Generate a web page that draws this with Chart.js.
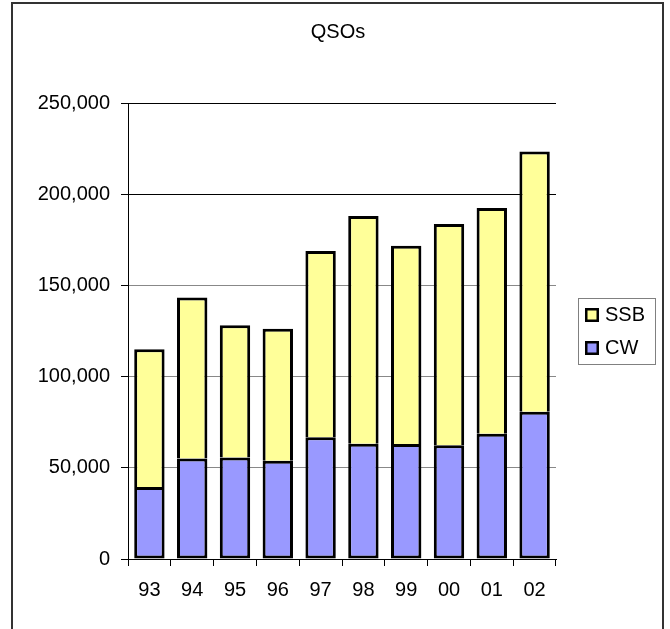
<!DOCTYPE html>
<html>
<head>
<meta charset="utf-8">
<title>QSOs</title>
<script src="https://cdn.jsdelivr.net/npm/chart.js@4.4.1/dist/chart.umd.min.js"></script>
<style>
  body { margin: 0; background: #fff; }
  canvas { display: block; }
</style>
</head>
<body>
<canvas id="qsoChart" width="670" height="629"></canvas>
<script>
// Data
const years = ['93', '94', '95', '96', '97', '98', '99', '00', '01', '02'];
const cwQsos = [39500, 55100, 55700, 53800, 66700, 63200, 63000, 62400, 68600, 80700];
const ssbQsos = [75500, 88200, 72400, 72500, 102100, 124900, 108800, 121300, 123900, 142700];
const yTicks = [0, 50000, 100000, 150000, 200000, 250000];

const FONT = "'Liberation Sans', Arial, sans-serif";

// frame, title and boxed legend like the old spreadsheet chart
const decorations = {
    id: 'decorations',
    afterDraw(chart) {
        const ctx = chart.ctx;
        ctx.save();

        // outer frame
        ctx.strokeStyle = '#333';
        ctx.lineWidth = 2;
        ctx.strokeRect(12, 3, 651, 700);

        // title
        ctx.fillStyle = '#000';
        ctx.font = '20px ' + FONT;
        ctx.textAlign = 'center';
        ctx.textBaseline = 'middle';
        ctx.fillText('QSOs', 338, 32.5);

        // legend box
        ctx.strokeStyle = '#808080';
        ctx.lineWidth = 1;
        ctx.strokeRect(578.5, 298.5, 77, 66);

        const sets = chart.data.datasets.slice().reverse();
        ctx.textAlign = 'left';
        sets.forEach((ds, i) => {
            const top = 308 + i * 33;
            ctx.fillStyle = ds.backgroundColor;
            ctx.fillRect(585, top, 14, 14);
            ctx.strokeStyle = '#000';
            ctx.lineWidth = 2.5;
            ctx.strokeRect(586.25, top + 1.25, 11.5, 11.5);
            ctx.fillStyle = '#000';
            ctx.fillText(ds.label, 605, top + 7.5);
        });
        ctx.restore();
    }
};

const chart = new Chart(document.getElementById('qsoChart'), {
    type: 'bar',
    data: {
        labels: years,
        datasets: [
            {
                label: 'CW',
                data: cwQsos,
                backgroundColor: '#9999FF',
                borderColor: '#000',
                borderWidth: 3,
                borderSkipped: false,
                barPercentage: 0.71,
                categoryPercentage: 1
            },
            {
                label: 'SSB',
                data: ssbQsos,
                backgroundColor: '#FFFF99',
                borderColor: '#000',
                borderWidth: 3,
                barPercentage: 0.71,
                categoryPercentage: 1
            }
        ]
    },
    options: {
        responsive: false,
        animation: false,
        layout: {
            padding: { left: 0, right: 114, top: 103, bottom: 26 }
        },
        plugins: {
            legend: { display: false },
            title: { display: false },
            tooltip: { enabled: false }
        },
        scales: {
            x: {
                stacked: true,
                afterFit: (scale) => { scale.height = 44; },
                grid: {
                    drawOnChartArea: false,
                    drawTicks: true,
                    tickLength: 7,
                    color: '#000'
                },
                border: { display: true, color: '#000', width: 1 },
                ticks: {
                    padding: 12,
                    color: '#000',
                    font: { family: FONT, size: 20 }
                }
            },
            y: {
                stacked: true,
                min: yTicks[0],
                max: yTicks[yTicks.length - 1],
                afterFit: (scale) => { scale.width = 128; },
                afterBuildTicks: (scale) => {
                    scale.ticks = yTicks.map(v => ({ value: v }));
                },
                grid: {
                    color: (c) => (c.tick && c.tick.value >= 200000 ? '#000' : '#888'),
                    tickColor: '#000',
                    tickLength: 7,
                    lineWidth: 1
                },
                border: { display: true, color: '#000', width: 1 },
                ticks: {
                    padding: 11,
                    color: '#000',
                    font: { family: FONT, size: 20 },
                    callback: (v) => v.toLocaleString('en-US')
                }
            }
        }
    },
    plugins: [decorations]
});
</script>
</body>
</html>
